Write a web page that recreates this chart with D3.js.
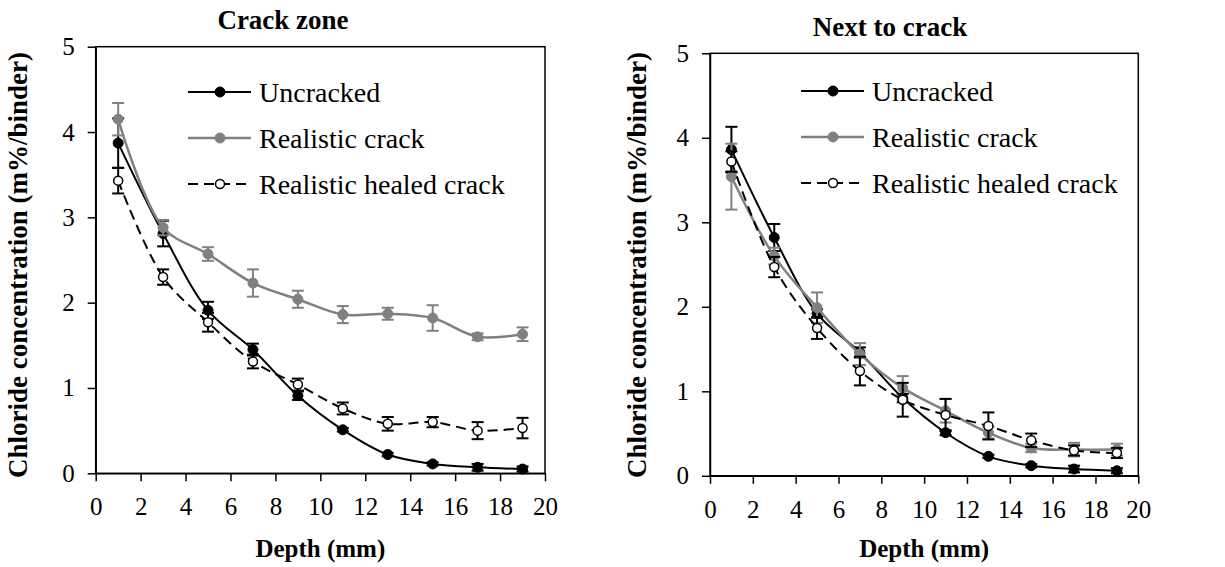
<!DOCTYPE html>
<html>
<head>
<meta charset="utf-8">
<script src="https://cdn.jsdelivr.net/npm/d3@7"></script>
<style>
  body { margin: 0; background: #fff; font-family: "Liberation Serif"; }
  svg, svg text { font-family: "Liberation Serif"; }
</style>
</head>
<body>
<script>
//------------------------------------------------------------------------------
//Data
//------------------------------------------------------------------------------
let depth = [1, 3, 5, 7, 9, 11, 13, 15, 17, 19];
let xTicks = [0, 2, 4, 6, 8, 10, 12, 14, 16, 18, 20];
let yTicks = [0, 1, 2, 3, 4, 5];
let seriesNames = ["Uncracked", "Realistic crack", "Realistic healed crack"];

// crack zone
let czUncracked    = [3.87, 2.81, 1.91, 1.45, 0.91, 0.51, 0.22, 0.11, 0.07, 0.05];
let czUncrackedErr = [0.29, 0.15, 0.10, 0.07, 0.05, 0.02, 0.02, 0.02, 0.04, 0.03];
let czCrack        = [4.15, 2.88, 2.57, 2.23, 2.04, 1.86, 1.87, 1.82, 1.60, 1.63];
let czCrackErr     = [0.19, 0.09, 0.08, 0.16, 0.10, 0.10, 0.07, 0.15, 0.04, 0.08];
let czHealed       = [3.43, 2.30, 1.77, 1.31, 1.04, 0.76, 0.58, 0.60, 0.50, 0.53];
let czHealedErr    = [0.15, 0.09, 0.11, 0.08, 0.07, 0.07, 0.08, 0.06, 0.10, 0.12];

// next to crack
let ntUncracked    = [3.86, 2.82, 1.92, 1.46, 0.92, 0.51, 0.23, 0.12, 0.08, 0.06];
let ntUncrackedErr = [0.27, 0.16, 0.05, 0.06, 0.05, 0.03, 0.02, 0.02, 0.04, 0.03];
let ntCrack        = [3.54, 2.60, 1.99, 1.44, 1.04, 0.77, 0.51, 0.33, 0.31, 0.31];
let ntCrackErr     = [0.39, 0.10, 0.18, 0.13, 0.14, 0.14, 0.07, 0.05, 0.08, 0.07];
let ntHealed       = [3.72, 2.47, 1.75, 1.24, 0.90, 0.72, 0.59, 0.42, 0.30, 0.27];
let ntHealedErr    = [0.12, 0.12, 0.13, 0.17, 0.20, 0.19, 0.16, 0.08, 0.06, 0.06];

let serif = "Liberation Serif";

let svg = d3.select("body").append("svg")
    .attr("width", 1225)
    .attr("height", 567)
    .attr("font-family", serif);

main()


//------------------------------------------------------------------------------
//Main
//------------------------------------------------------------------------------
function main()
{
    drawChart({
        title: "Crack zone", titleX: 283, titleY: 29,
        left: 95.7, right: 545, top: 46.7, bottom: 473.3,
        yLabelX: 27, legendX: 188, legendY: 92,
        series: [
            {vals: czUncracked, err: czUncrackedErr},
            {vals: czCrack, err: czCrackErr},
            {vals: czHealed, err: czHealedErr}
        ]
    })

    drawChart({
        title: "Next to crack", titleX: 890, titleY: 36,
        left: 710, right: 1138.3, top: 53.3, bottom: 475.8,
        yLabelX: 646, legendX: 801, legendY: 91,
        series: [
            {vals: ntUncracked, err: ntUncrackedErr},
            {vals: ntCrack, err: ntCrackErr},
            {vals: ntHealed, err: ntHealedErr}
        ]
    })
}


//------------------------------------------------------------------------------
//Chart
//------------------------------------------------------------------------------
function drawChart(o)
{
    let styles = [
        {color: "#000", dash: null, fill: "#000", width: 2},
        {color: "#808080", dash: null, fill: "#808080", width: 2.5},
        {color: "#000", dash: "10,6", fill: "#fff", width: 2}
    ];

    let x = d3.scaleLinear().domain([0, 20]).range([o.left, o.right]);
    let y = d3.scaleLinear().domain([0, 5]).range([o.bottom, o.top]);

    let g = svg.append("g").attr("font-family", serif);

    // frame
    g.append("rect")
        .attr("x", x(0)).attr("y", y(5))
        .attr("width", x(20) - x(0)).attr("height", y(0) - y(5))
        .attr("fill", "none").attr("stroke", "#000").attr("stroke-width", 1.5);

    // axes
    let xAxis = g.append("g")
        .attr("transform", "translate(0," + y(0) + ")")
        .call(d3.axisBottom(x).tickValues(xTicks).tickFormat(d3.format("d"))
              .tickSize(8).tickPadding(16).tickSizeOuter(0));
    let yAxis = g.append("g")
        .attr("transform", "translate(" + x(0) + ",0)")
        .call(d3.axisLeft(y).tickValues(yTicks).tickFormat(d3.format("d"))
              .tickSize(8).tickPadding(13).tickSizeOuter(0));

    [xAxis, yAxis].forEach(a => {
        a.attr("font-family", serif).attr("font-size", 25);
        a.selectAll("path, line").attr("stroke", "#000").attr("stroke-width", 1.5);
        a.selectAll("text")
            .attr("font-family", serif)
            .attr("font-size", 25)
            .attr("fill", "#000");
    });

    // titles
    g.append("text")
        .attr("x", o.titleX).attr("y", o.titleY)
        .attr("text-anchor", "middle")
        .attr("font-family", serif).attr("font-size", 27).attr("font-weight", "bold")
        .text(o.title);

    g.append("text")
        .attr("x", (x(0) + x(20)) / 2).attr("y", 557)
        .attr("text-anchor", "middle")
        .attr("font-family", serif).attr("font-size", 25).attr("font-weight", "bold")
        .text("Depth (mm)");

    g.append("text")
        .attr("transform", "translate(" + o.yLabelX + "," + 265 + ") rotate(-90)")
        .attr("text-anchor", "middle")
        .attr("font-family", serif).attr("font-size", 27).attr("font-weight", "bold")
        .text("Chloride concentration (m%/binder)");

    // series
    let line = d3.line()
        .x((d, i) => x(depth[i]))
        .y(d => y(d))
        .curve(d3.curveCatmullRom.alpha(0.5));

    o.series.forEach((s, k) => {
        let st = styles[k];
        let sg = g.append("g");

        sg.append("path")
            .datum(s.vals)
            .attr("d", line)
            .attr("fill", "none")
            .attr("stroke", st.color)
            .attr("stroke-width", st.width)
            .attr("stroke-dasharray", st.dash);

        // error bars
        let eb = sg.selectAll(".eb").data(s.vals).enter().append("g");
        eb.append("line")
            .attr("x1", (d, i) => x(depth[i])).attr("x2", (d, i) => x(depth[i]))
            .attr("y1", (d, i) => y(d + s.err[i])).attr("y2", (d, i) => y(d - s.err[i]))
            .attr("stroke", st.color).attr("stroke-width", 2);
        [1, -1].forEach(sign => {
            eb.append("line")
                .attr("x1", (d, i) => x(depth[i]) - 6).attr("x2", (d, i) => x(depth[i]) + 6)
                .attr("y1", (d, i) => y(d + sign * s.err[i])).attr("y2", (d, i) => y(d + sign * s.err[i]))
                .attr("stroke", st.color).attr("stroke-width", 2);
        });

        // markers
        sg.selectAll("circle").data(s.vals).enter().append("circle")
            .attr("cx", (d, i) => x(depth[i]))
            .attr("cy", d => y(d))
            .attr("r", k == 2 ? 4.5 : 5)
            .attr("fill", st.fill)
            .attr("stroke", st.color)
            .attr("stroke-width", k == 2 ? 1.5 : 1);

        // legend
        let ly = o.legendY + k * 46;
        let lg = g.append("g");
        lg.append("line")
            .attr("x1", o.legendX).attr("x2", o.legendX + 63)
            .attr("y1", ly).attr("y2", ly)
            .attr("stroke", st.color).attr("stroke-width", st.width)
            .attr("stroke-dasharray", k == 2 ? "10,6" : null);
        lg.append("circle")
            .attr("cx", o.legendX + 32).attr("cy", ly)
            .attr("r", k == 2 ? 4.5 : 5)
            .attr("fill", st.fill).attr("stroke", st.color)
            .attr("stroke-width", k == 2 ? 1.5 : 1);
        lg.append("text")
            .attr("x", o.legendX + 71).attr("y", ly + 10)
            .attr("font-family", serif).attr("font-size", 28)
            .text(seriesNames[k]);
    });
}
</script>
</body>
</html>
